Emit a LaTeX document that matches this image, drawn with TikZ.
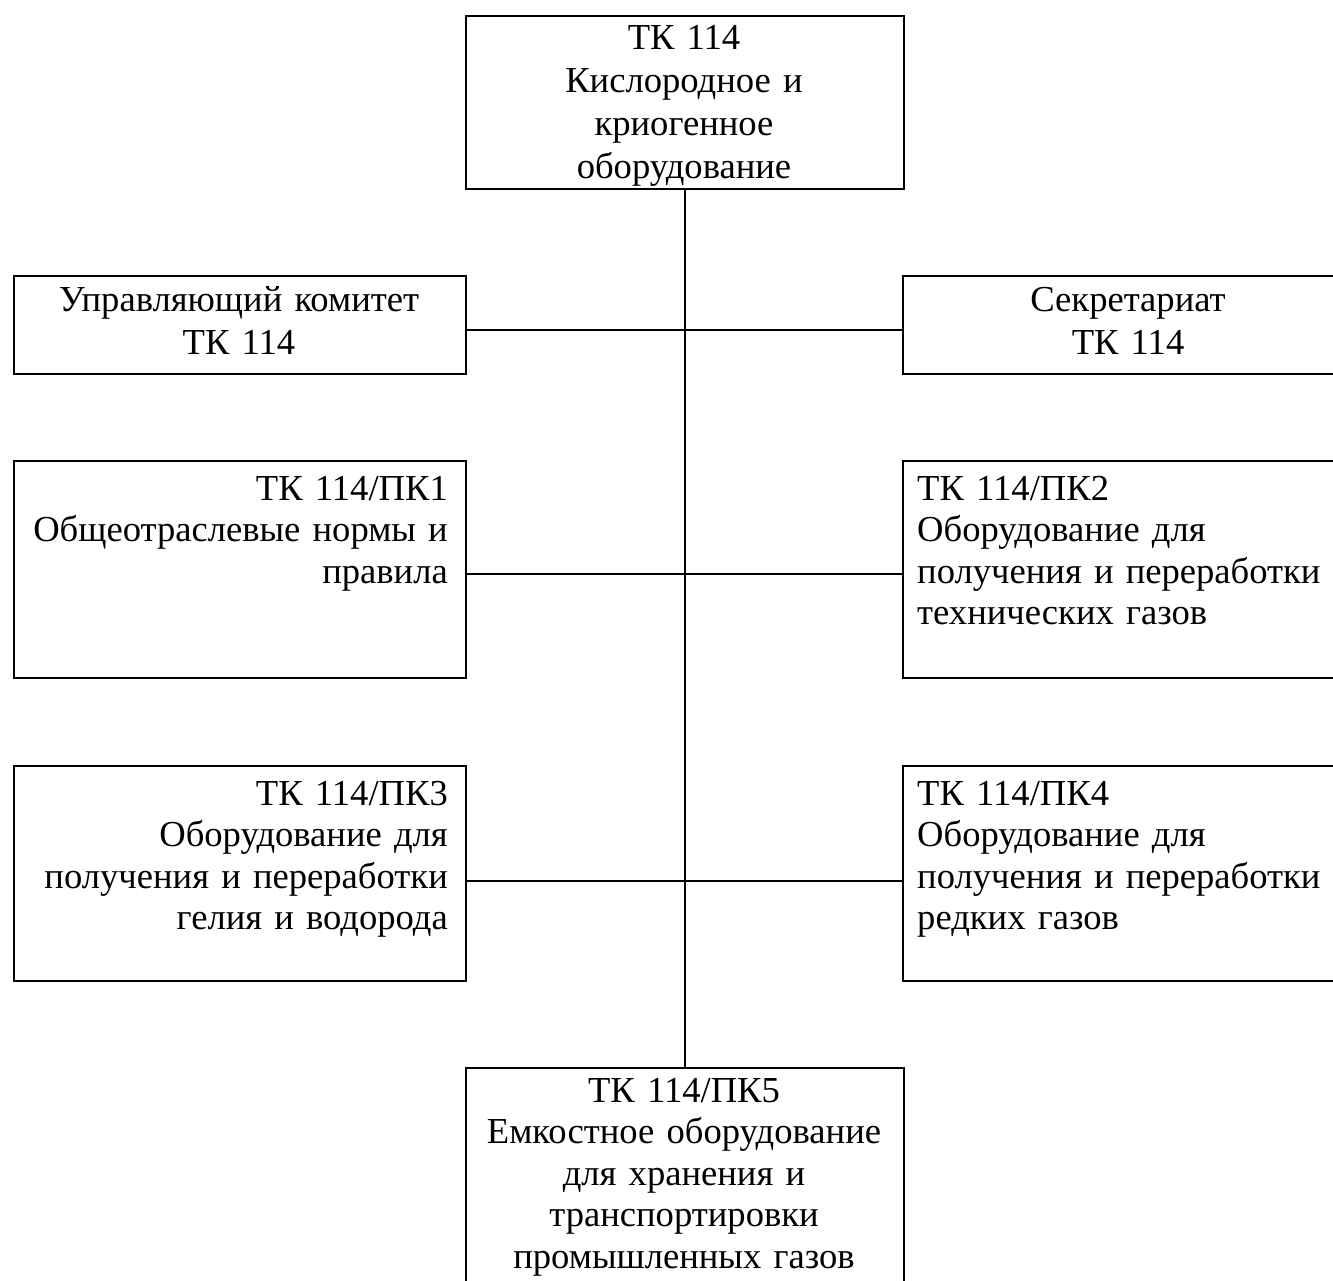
\documentclass[tikz,border=0pt]{standalone}
\usepackage{fontspec}
\setmainfont{Liberation Serif}
\begin{document}
\begin{tikzpicture}[x=1pt,y=-1pt,
  box/.style={draw=black,line width=1.6pt,inner sep=0pt,anchor=north west},
  txt/.style={inner sep=0pt,font={\fontsize{36.6}{41.6}\selectfont}},
  wide/.style={font={\fontsize{36.6}{43}\selectfont}},
  link/.style={draw=black,line width=1.6pt}]
\useasboundingbox[fill=white] (0,0) rectangle (1333,1280);
% boxes
\node[box,minimum width=438pt,minimum height=173pt] (top) at (465,15) {};
\node[box,minimum width=452pt,minimum height=98pt] (mgr) at (13,275) {};
\node[box,minimum width=452pt,minimum height=98pt] (sec) at (902,275) {};
\node[box,minimum width=452pt,minimum height=217pt] (pk1) at (13,460) {};
\node[box,minimum width=452pt,minimum height=217pt] (pk2) at (902,460) {};
\node[box,minimum width=452pt,minimum height=215pt] (pk3) at (13,765) {};
\node[box,minimum width=452pt,minimum height=215pt] (pk4) at (902,765) {};
\node[box,minimum width=438pt,minimum height=240pt] (pk5) at (465,1067) {};
% connectors
\draw[link] (top.south) -- (pk5.north);
\draw[link] ([yshift=-5pt]mgr.east) -- ([yshift=-5pt]sec.west);
\draw[link] ([yshift=-4.5pt]pk1.east) -- ([yshift=-4.5pt]pk2.west);
\draw[link] ([yshift=-7.5pt]pk3.east) -- ([yshift=-7.5pt]pk4.west);
% texts
\node[txt,wide,anchor=base,text width=430pt,align=center] (ttop) at (684,49)
  {ТК 114\\Кислородное и\\криогенное\\оборудование};
\node[txt,wide,anchor=base,text width=440pt,align=center] (tmgr) at (239,311)
  {Управляющий комитет\\ТК 114};
\node[txt,wide,anchor=base,text width=440pt,align=center] (tsec) at (1128,311)
  {Секретариат\\ТК 114};
\node[txt,anchor=base east,text width=430pt,align=right] (tpk1) at (448,500)
  {ТК 114/ПК1\\Общеотраслевые нормы и\\правила};
\node[txt,anchor=base west,text width=430pt,align=left] (tpk2) at (917,500)
  {ТК 114/ПК2\\Оборудование для\\получения и переработки\\технических газов};
\node[txt,anchor=base east,text width=430pt,align=right] (tpk3) at (448,805)
  {ТК 114/ПК3\\Оборудование для\\получения и переработки\\гелия и водорода};
\node[txt,anchor=base west,text width=430pt,align=left] (tpk4) at (917,805)
  {ТК 114/ПК4\\Оборудование для\\получения и переработки\\редких газов};
\node[txt,anchor=base,text width=430pt,align=center] (tpk5) at (684,1102)
  {ТК 114/ПК5\\Емкостное оборудование\\для хранения и\\транспортировки\\промышленных газов};
\end{tikzpicture}
\end{document}
